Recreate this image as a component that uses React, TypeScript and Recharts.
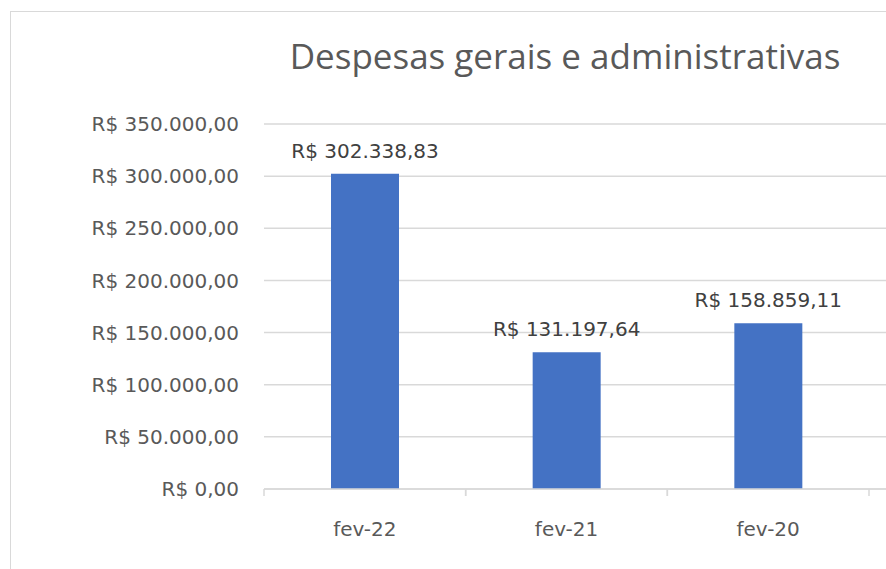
import { BarChart, Bar, XAxis, YAxis, CartesianGrid, LabelList } from 'recharts'

const categories = ['fev-22', 'fev-21', 'fev-20']
const despesas = [302338.83, 131197.64, 158859.11]
const yTicks = [0, 50000, 100000, 150000, 200000, 250000, 300000, 350000]

const data = categories.map((mes, i) => ({ mes, valor: despesas[i] }))

const TITLE_FONT = '"Open Sans", "Noto Sans", sans-serif'
const FONT = '"DejaVu Sans", "Noto Sans", sans-serif'
const GRAY = '#595959'
const LINE = '#d9d9d9'

// formato brasileiro: R$ 1.234,56
function brl(v: number) {
  const [int, dec] = v.toFixed(2).split('.')
  return `R$ ${int.replace(/\B(?=(\d{3})+(?!\d))/g, '.')},${dec}`
}

function CategoryTick(props: any) {
  const { x, y, payload } = props
  const half = payload?.offset ?? 100
  return (
    <g>
      <line x1={x - half} x2={x - half} y1={y} y2={y + 7} stroke={LINE} strokeWidth={1.5} />
      <line x1={x + half} x2={x + half} y1={y} y2={y + 7} stroke={LINE} strokeWidth={1.5} />
      <text x={x} y={y + 47} textAnchor="middle" fill={GRAY} fontSize={20} fontFamily={FONT}>
        {payload.value}
      </text>
    </g>
  )
}

function ValueLabel(props: any) {
  const { x, y, width, value } = props
  return (
    <text x={x + width / 2} y={y - 16} textAnchor="middle" fill="#404040" fontSize={20} fontFamily={FONT}>
      {brl(Number(value))}
    </text>
  )
}

export default function App() {
  return (
    <div style={{ position: 'absolute', left: 0, top: 0, width: 886, height: 569, overflow: 'hidden', background: '#fff' }}>
      <div
        style={{
          position: 'absolute',
          left: 10,
          top: 11,
          width: 1110,
          height: 700,
          border: `1px solid ${LINE}`,
          boxSizing: 'border-box',
        }}
      />
      <div
        style={{
          position: 'absolute',
          left: 0,
          width: 1130,
          top: 32,
          textAlign: 'center',
          fontFamily: TITLE_FONT,
          fontSize: 35,
          color: GRAY,
          lineHeight: '48px',
        }}
      >
        Despesas gerais e administrativas
      </div>
      <div style={{ position: 'absolute', left: 0, top: 0 }}>
        <BarChart width={1120} height={569} data={data} margin={{ top: 124, right: 50, bottom: 0, left: 0 }}>
          <CartesianGrid vertical={false} stroke={LINE} strokeWidth={1.5} />
          <XAxis
            dataKey="mes"
            padding={{ left: 0, right: 201 }}
            axisLine={{ stroke: LINE, strokeWidth: 1.5 }}
            tickLine={false}
            tickSize={0}
            tickMargin={0}
            tick={<CategoryTick />}
            height={80}
            interval={0}
          />
          <YAxis
            domain={[0, 350000]}
            ticks={yTicks}
            width={264}
            axisLine={false}
            tickLine={false}
            tickSize={0}
            tickMargin={25}
            tickFormatter={brl}
            tick={{ fill: GRAY, fontSize: 20, fontFamily: FONT }}
          />
          <Bar dataKey="valor" fill="#4472c4" barSize={68} isAnimationActive={false}>
            <LabelList dataKey="valor" content={<ValueLabel />} />
          </Bar>
        </BarChart>
      </div>
    </div>
  )
}
